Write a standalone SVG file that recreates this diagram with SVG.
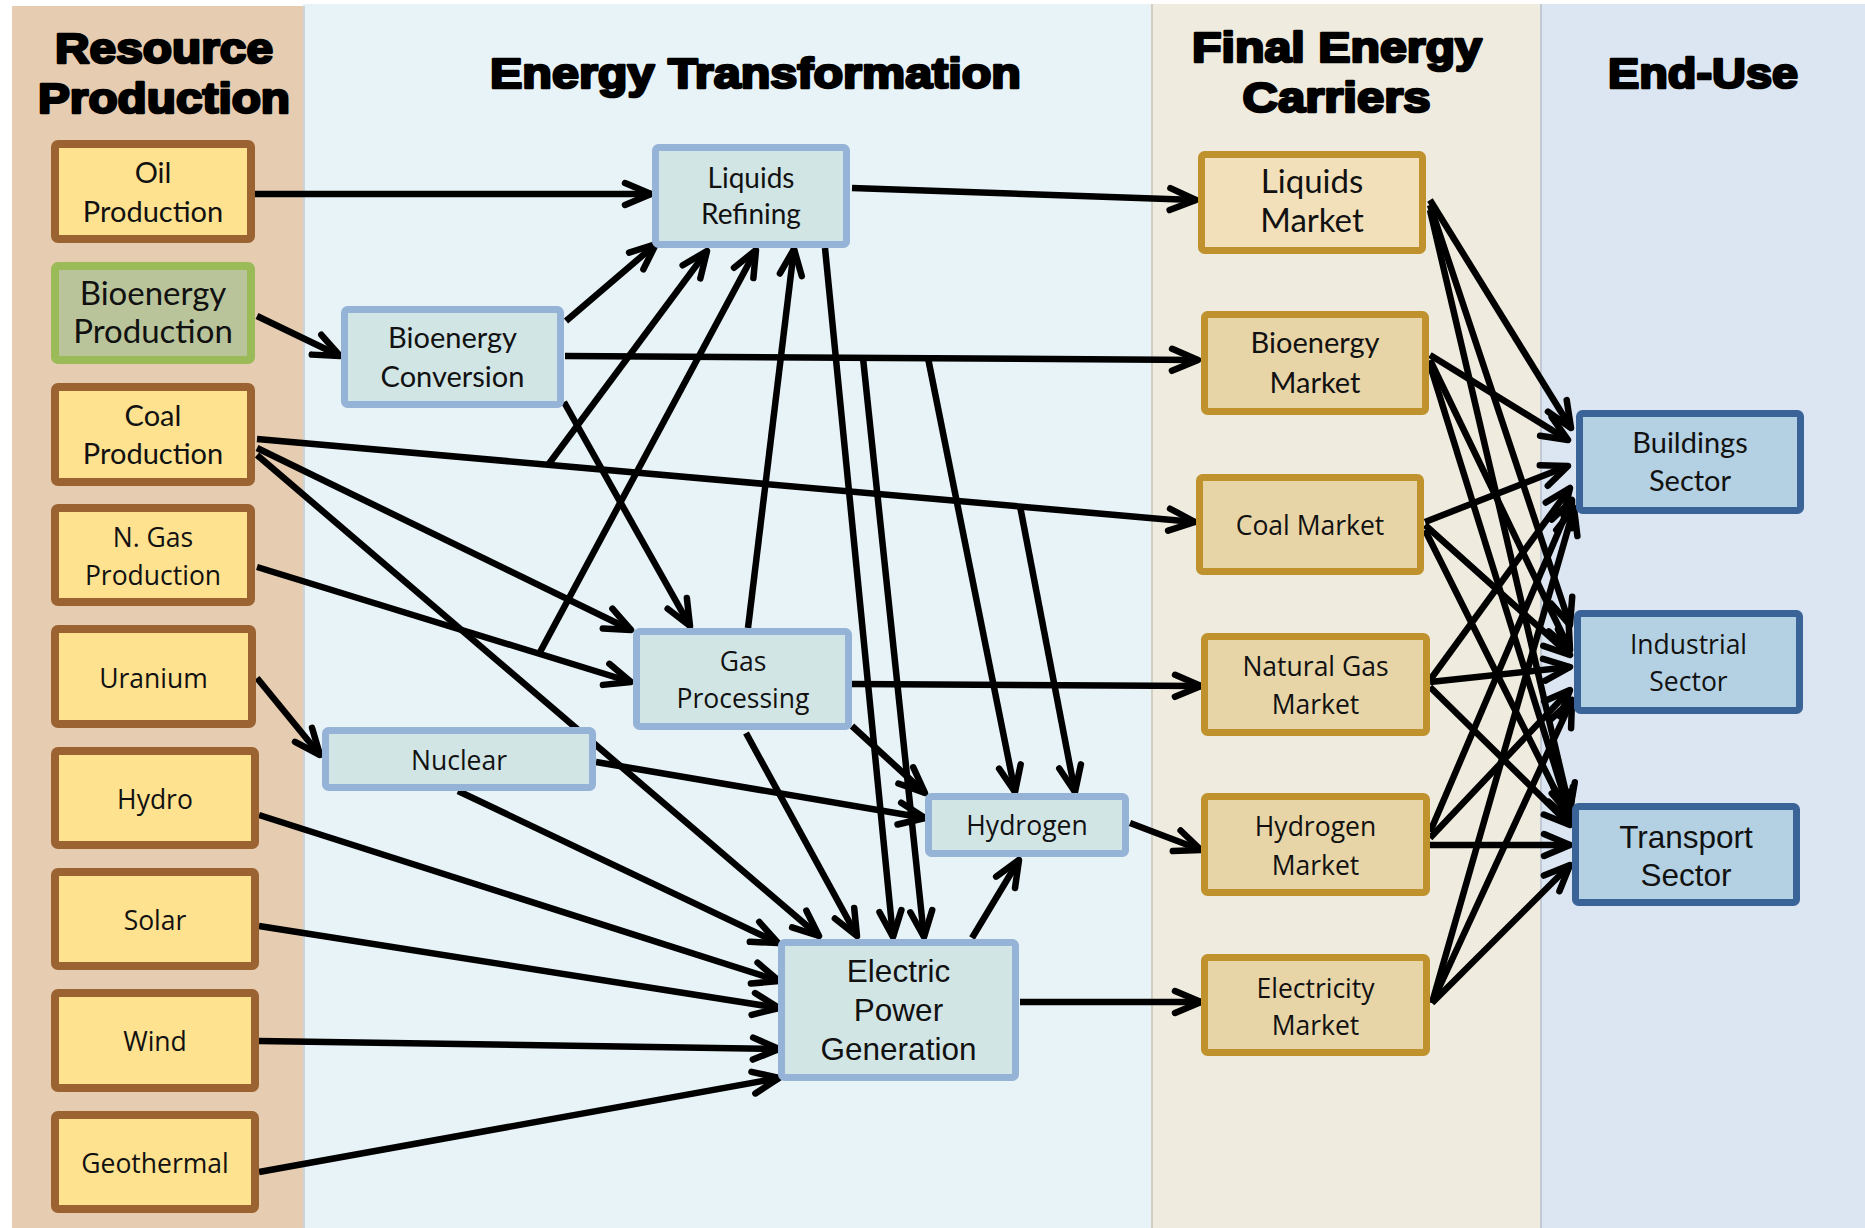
<svg xmlns="http://www.w3.org/2000/svg" width="1865" height="1228" viewBox="0 0 1865 1228">
  <defs>
    <marker id="arr" viewBox="0 0 32 26" markerWidth="32" markerHeight="26" refX="29" refY="13" orient="auto" markerUnits="userSpaceOnUse" overflow="visible">
      <path d="M3,2 L29,13 L3,24" fill="none" stroke="#000" stroke-width="6.5" stroke-linecap="round" stroke-linejoin="round"/>
    </marker>
    <style>
      .hd { font-family: "Liberation Sans", Arial, sans-serif; font-weight: bold; font-size: 43px; fill: #000; stroke: #000; stroke-width: 2.6; stroke-linejoin: round; text-anchor: middle; }
      .tc { font-family: Lato, "Open Sans", sans-serif; font-size: 29px; fill: #111; text-anchor: middle; }
      .tc28 { font-size: 28px; }
      .tc33 { font-size: 33px; }
      .ts { font-family: "Open Sans", "Noto Sans", sans-serif; font-size: 26.5px; fill: #111; text-anchor: middle; }
      .ta { font-family: "Liberation Sans", Arial, sans-serif; font-size: 31.5px; fill: #111; text-anchor: middle; }
      .res { fill: #FFE28F; stroke: #9B6332; stroke-width: 8; }
      .bio { fill: #BAC49B; stroke: #9BBB59; stroke-width: 8; }
      .trf { fill: #D2E5E5; stroke: #95B3D7; stroke-width: 7; }
      .mkt { fill: #E7D5A7; stroke: #C0922E; stroke-width: 7; }
      .mkl { fill: #F1E0BA; stroke: #C0922E; stroke-width: 7; }
      .sec { fill: #B4D1E3; stroke: #3A6398; stroke-width: 7; }
      #connectors path { fill: none; stroke: #000; stroke-width: 6.5; marker-end: url(#arr); }
    </style>
  </defs>

  <!-- background columns -->
  <rect x="0" y="0" width="1865" height="1228" fill="#FFFFFF"/>
  <rect x="12" y="6" width="291" height="1222" fill="#E6CCB1"/>
  <rect x="303" y="4" width="848" height="1224" fill="#E8F3F8"/>
  <rect x="1151" y="4" width="389" height="1224" fill="#EFEBDF"/>
  <rect x="1540" y="4" width="325" height="1224" fill="#DCE6F2"/>
  <g stroke="#000" stroke-opacity="0.12" stroke-width="2">
    <line x1="304" y1="6" x2="304" y2="1228"/>
    <line x1="1152" y1="4" x2="1152" y2="1228"/>
    <line x1="1541" y1="4" x2="1541" y2="1228"/>
  </g>

  <!-- column headings -->
  <g id="headings">
    <text class="hd" x="164" y="63" textLength="218" lengthAdjust="spacingAndGlyphs">Resource</text>
    <text class="hd" x="164" y="113" textLength="252" lengthAdjust="spacingAndGlyphs">Production</text>
    <text class="hd" x="755.5" y="88" textLength="531" lengthAdjust="spacingAndGlyphs">Energy Transformation</text>
    <text class="hd" x="1337" y="62" textLength="290" lengthAdjust="spacingAndGlyphs">Final Energy</text>
    <text class="hd" x="1336.5" y="112" textLength="188" lengthAdjust="spacingAndGlyphs">Carriers</text>
    <text class="hd" x="1703" y="88" textLength="190" lengthAdjust="spacingAndGlyphs">End-Use</text>
  </g>

  <!-- flows -->
  <g id="connectors">
    <path d="M255,194 L651,194"/>
    <path d="M257,316 L340,356"/>
    <path d="M566,321 L656,244"/>
    <path d="M565,356 L1198,360"/>
    <path d="M564,402 L690,626"/>
    <path d="M257,439 L1195,522"/>
    <path d="M548,465 L707,251"/>
    <path d="M539,654 L756,250"/>
    <path d="M748,628 L794,249"/>
    <path d="M852,188 L1196,200"/>
    <path d="M825,248 L893,937"/>
    <path d="M863,358 L924,937"/>
    <path d="M928,358 L1015,792"/>
    <path d="M1020,506 L1075,792"/>
    <path d="M257,448 L631,630"/>
    <path d="M257,455 L819,936"/>
    <path d="M257,567 L631,682"/>
    <path d="M257,678 L320,755"/>
    <path d="M596,762 L925,818"/>
    <path d="M458,791 L778,943"/>
    <path d="M852,726 L925,793"/>
    <path d="M746,733 L857,936"/>
    <path d="M852,684 L1201,686"/>
    <path d="M1130,823 L1201,850"/>
    <path d="M972,938 L1019,860"/>
    <path d="M1020,1002 L1201,1002"/>
    <path d="M259,815 L779,981"/>
    <path d="M259,926 L779,1008"/>
    <path d="M259,1041 L779,1049"/>
    <path d="M259,1172 L779,1078"/>
    <!-- carriers to sectors -->
    <path d="M1430,200 L1571,428"/>
    <path d="M1430,205 L1570,625"/>
    <path d="M1430,210 L1570,810"/>
    <path d="M1430,355 L1568,440"/>
    <path d="M1430,360 L1570,650"/>
    <path d="M1430,365 L1570,815"/>
    <path d="M1425,522 L1568,466"/>
    <path d="M1425,525 L1570,655"/>
    <path d="M1425,530 L1570,820"/>
    <path d="M1430,680 L1570,488"/>
    <path d="M1430,682 L1570,667"/>
    <path d="M1430,687 L1570,825"/>
    <path d="M1430,832 L1572,500"/>
    <path d="M1430,838 L1570,690"/>
    <path d="M1430,845 L1570,845"/>
    <path d="M1432,1003 L1574,508"/>
    <path d="M1432,1003 L1572,700"/>
    <path d="M1432,1003 L1570,865"/>
  </g>

  <!-- resource production -->
  <g id="oil"><rect class="res" x="55" y="144" width="196" height="95" rx="3"/>
    <text class="tc" x="153" y="182.5">Oil</text><text class="tc" x="153" y="221.5">Production</text></g>
  <g id="bioenergy-production"><rect class="bio" x="55" y="266" width="196" height="94" rx="3"/>
    <text class="tc tc33" x="153" y="305">Bioenergy</text><text class="tc tc33" x="153" y="343">Production</text></g>
  <g id="coal"><rect class="res" x="55" y="387" width="196" height="95" rx="3"/>
    <text class="tc" x="153" y="426">Coal</text><text class="tc" x="153" y="464">Production</text></g>
  <g id="natural-gas"><rect class="res" x="55" y="508" width="196" height="94" rx="3"/>
    <text class="ts" x="153" y="547">N. Gas</text><text class="ts" x="153" y="585">Production</text></g>
  <g id="uranium"><rect class="res" x="55" y="629" width="197" height="95" rx="3"/>
    <text class="ts" x="153.5" y="688">Uranium</text></g>
  <g id="hydro"><rect class="res" x="55" y="751" width="200" height="94" rx="3"/>
    <text class="ts" x="155" y="809">Hydro</text></g>
  <g id="solar"><rect class="res" x="55" y="872" width="200" height="94" rx="3"/>
    <text class="ts" x="155" y="930">Solar</text></g>
  <g id="wind"><rect class="res" x="55" y="993" width="200" height="95" rx="3"/>
    <text class="ts" x="155" y="1051">Wind</text></g>
  <g id="geothermal"><rect class="res" x="55" y="1115" width="200" height="94" rx="3"/>
    <text class="ts" x="155" y="1173">Geothermal</text></g>

  <!-- energy transformation -->
  <g id="liquids-refining"><rect class="trf" x="655.5" y="147.5" width="191" height="97" rx="3"/>
    <text class="tc tc28" x="751" y="188">Liquids</text><text class="tc tc28" x="751" y="224">Refining</text></g>
  <g id="bioenergy-conversion"><rect class="trf" x="344.5" y="309.5" width="216" height="95" rx="3"/>
    <text class="tc" x="452.5" y="348">Bioenergy</text><text class="tc" x="452.5" y="386.5">Conversion</text></g>
  <g id="gas-processing"><rect class="trf" x="636.5" y="631.5" width="212" height="95" rx="3"/>
    <text class="ts" x="743" y="671">Gas</text><text class="ts" x="743" y="708">Processing</text></g>
  <g id="nuclear"><rect class="trf" x="325.5" y="730.5" width="267" height="57" rx="3"/>
    <text class="ts" x="459" y="769.5">Nuclear</text></g>
  <g id="hydrogen"><rect class="trf" x="928.5" y="796.5" width="197" height="57" rx="3"/>
    <text class="ts" x="1027" y="835">Hydrogen</text></g>
  <g id="electric-power"><rect class="trf" x="781.5" y="942.5" width="234" height="135" rx="3"/>
    <text class="ta" x="898.5" y="982">Electric</text><text class="ta" x="898.5" y="1020.5">Power</text><text class="ta" x="898.5" y="1059.5">Generation</text></g>

  <!-- final energy carriers -->
  <g id="liquids-market"><rect class="mkl" x="1201.5" y="154.5" width="221" height="96" rx="3"/>
    <text class="tc tc33" x="1312" y="193">Liquids</text><text class="tc tc33" x="1312" y="232">Market</text></g>
  <g id="bioenergy-market"><rect class="mkt" x="1204.5" y="314.5" width="221" height="97" rx="3"/>
    <text class="tc" x="1315" y="353">Bioenergy</text><text class="tc" x="1315" y="392.5">Market</text></g>
  <g id="coal-market"><rect class="mkt" x="1199.5" y="477.5" width="221" height="94" rx="3"/>
    <text class="ts" x="1310" y="535">Coal Market</text></g>
  <g id="natural-gas-market"><rect class="mkt" x="1204.5" y="636.5" width="222" height="96" rx="3"/>
    <text class="ts" x="1315.5" y="675.5">Natural Gas</text><text class="ts" x="1315.5" y="714">Market</text></g>
  <g id="hydrogen-market"><rect class="mkt" x="1204.5" y="796.5" width="222" height="96" rx="3"/>
    <text class="ts" x="1315.5" y="835.5">Hydrogen</text><text class="ts" x="1315.5" y="874.5">Market</text></g>
  <g id="electricity-market"><rect class="mkt" x="1204.5" y="957.5" width="222" height="95" rx="3"/>
    <text class="ts" x="1315.5" y="997.5">Electricity</text><text class="ts" x="1315.5" y="1034.5">Market</text></g>

  <!-- end-use sectors -->
  <g id="buildings"><rect class="sec" x="1579.5" y="413.5" width="221" height="97" rx="3"/>
    <text class="tc" x="1690" y="453">Buildings</text><text class="tc" x="1690" y="491">Sector</text></g>
  <g id="industrial"><rect class="sec" x="1577.5" y="613.5" width="222" height="97" rx="3"/>
    <text class="ts" x="1688.5" y="654">Industrial</text><text class="ts" x="1688.5" y="691">Sector</text></g>
  <g id="transport"><rect class="sec" x="1575.5" y="806.5" width="221" height="96" rx="3"/>
    <text class="ta" x="1686" y="847.5">Transport</text><text class="ta" x="1686" y="885.5">Sector</text></g>
</svg>
